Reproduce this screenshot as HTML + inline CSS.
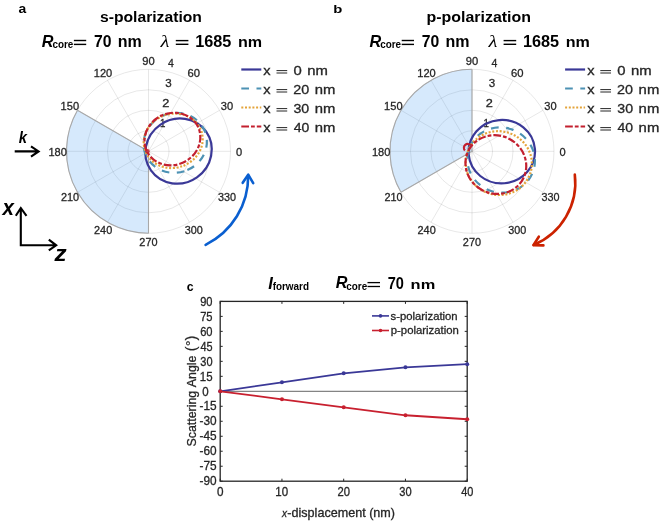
<!DOCTYPE html><html><head><meta charset="utf-8"><style>html,body{margin:0;padding:0;background:#fff;width:660px;height:522px;overflow:hidden}svg{display:block;will-change:transform}text{font-kerning:none;font-family:"Liberation Sans",sans-serif}</style></head><body>
<svg width="660" height="522" viewBox="0 0 660 522">
<rect width="660" height="522" fill="#fff"/>
<circle cx="148.5" cy="151.3" r="20.50" fill="none" stroke="rgba(0,0,0,0.105)" stroke-width="0.9"/>
<circle cx="148.5" cy="151.3" r="41.00" fill="none" stroke="rgba(0,0,0,0.105)" stroke-width="0.9"/>
<circle cx="148.5" cy="151.3" r="61.50" fill="none" stroke="rgba(0,0,0,0.105)" stroke-width="0.9"/>
<circle cx="148.5" cy="151.3" r="82.00" fill="none" stroke="rgba(0,0,0,0.105)" stroke-width="0.9"/>
<line x1="148.5" y1="151.3" x2="230.50" y2="151.30" stroke="rgba(0,0,0,0.105)" stroke-width="0.9"/>
<line x1="148.5" y1="151.3" x2="219.51" y2="110.30" stroke="rgba(0,0,0,0.105)" stroke-width="0.9"/>
<line x1="148.5" y1="151.3" x2="189.50" y2="80.29" stroke="rgba(0,0,0,0.105)" stroke-width="0.9"/>
<line x1="148.5" y1="151.3" x2="148.50" y2="69.30" stroke="rgba(0,0,0,0.105)" stroke-width="0.9"/>
<line x1="148.5" y1="151.3" x2="107.50" y2="80.29" stroke="rgba(0,0,0,0.105)" stroke-width="0.9"/>
<line x1="148.5" y1="151.3" x2="77.49" y2="110.30" stroke="rgba(0,0,0,0.105)" stroke-width="0.9"/>
<line x1="148.5" y1="151.3" x2="66.50" y2="151.30" stroke="rgba(0,0,0,0.105)" stroke-width="0.9"/>
<line x1="148.5" y1="151.3" x2="77.49" y2="192.30" stroke="rgba(0,0,0,0.105)" stroke-width="0.9"/>
<line x1="148.5" y1="151.3" x2="107.50" y2="222.31" stroke="rgba(0,0,0,0.105)" stroke-width="0.9"/>
<line x1="148.5" y1="151.3" x2="148.50" y2="233.30" stroke="rgba(0,0,0,0.105)" stroke-width="0.9"/>
<line x1="148.5" y1="151.3" x2="189.50" y2="222.31" stroke="rgba(0,0,0,0.105)" stroke-width="0.9"/>
<line x1="148.5" y1="151.3" x2="219.51" y2="192.30" stroke="rgba(0,0,0,0.105)" stroke-width="0.9"/>
<path d="M148.5,151.3 L77.49,110.30 A82,82 0 0 0 148.50,233.30 Z" fill="rgba(50,145,240,0.2)" stroke="none"/>
<path d="M77.49,110.30 L148.5,151.3 L148.50,233.30" fill="none" stroke="#a8a8a8" stroke-width="1.1"/>
<path d="M77.49,110.30 A82,82 0 0 0 148.50,233.30" fill="none" stroke="#a8a8a8" stroke-width="1.1"/>
<text transform="translate(236.02,155.60) scale(0.9677,1)" style="font-family:'Liberation Sans';font-size:11.46px" fill="#262626"  stroke="#262626" stroke-width="0.3">0</text>
<text transform="translate(220.79,110.30) scale(0.9696,1)" style="font-family:'Liberation Sans';font-size:11.46px" fill="#262626"  stroke="#262626" stroke-width="0.3">30</text>
<text transform="translate(187.48,77.14) scale(0.9817,1)" style="font-family:'Liberation Sans';font-size:11.46px" fill="#262626"  stroke="#262626" stroke-width="0.3">60</text>
<text transform="translate(142.22,65.00) scale(0.9779,1)" style="font-family:'Liberation Sans';font-size:11.46px" fill="#262626"  stroke="#262626" stroke-width="0.3">90</text>
<text transform="translate(93.76,77.14) scale(0.9665,1)" style="font-family:'Liberation Sans';font-size:11.46px" fill="#262626"  stroke="#262626" stroke-width="0.3">120</text>
<text transform="translate(60.59,110.30) scale(0.9665,1)" style="font-family:'Liberation Sans';font-size:11.46px" fill="#262626"  stroke="#262626" stroke-width="0.3">150</text>
<text transform="translate(48.46,155.60) scale(0.9665,1)" style="font-family:'Liberation Sans';font-size:11.46px" fill="#262626"  stroke="#262626" stroke-width="0.3">180</text>
<text transform="translate(60.89,200.90) scale(0.9507,1)" style="font-family:'Liberation Sans';font-size:11.46px" fill="#262626"  stroke="#262626" stroke-width="0.3">210</text>
<text transform="translate(94.05,234.06) scale(0.9507,1)" style="font-family:'Liberation Sans';font-size:11.46px" fill="#262626"  stroke="#262626" stroke-width="0.3">240</text>
<text transform="translate(139.35,246.20) scale(0.9507,1)" style="font-family:'Liberation Sans';font-size:11.46px" fill="#262626"  stroke="#262626" stroke-width="0.3">270</text>
<text transform="translate(184.79,234.06) scale(0.9434,1)" style="font-family:'Liberation Sans';font-size:11.46px" fill="#262626"  stroke="#262626" stroke-width="0.3">300</text>
<text transform="translate(217.95,200.90) scale(0.9434,1)" style="font-family:'Liberation Sans';font-size:11.46px" fill="#262626"  stroke="#262626" stroke-width="0.3">330</text>
<text transform="translate(160.06,126.90) scale(0.8377,1)" style="font-family:'Liberation Sans';font-size:11.63px" fill="#262626"  stroke="#262626" stroke-width="0.3">1</text>
<text transform="translate(162.26,106.90) scale(1.1112,1)" style="font-family:'Liberation Sans';font-size:11.46px" fill="#262626"  stroke="#262626" stroke-width="0.3">2</text>
<text transform="translate(165.31,86.80) scale(1.0125,1)" style="font-family:'Liberation Sans';font-size:11.46px" fill="#262626"  stroke="#262626" stroke-width="0.3">3</text>
<text transform="translate(168.11,66.50) scale(0.9045,1)" style="font-family:'Liberation Sans';font-size:11.63px" fill="#262626"  stroke="#262626" stroke-width="0.3">4</text>
<ellipse cx="178.56" cy="151.08" rx="33.73" ry="32.02" transform="rotate(144.95 178.56 151.08)" fill="none" stroke="#3a3897" stroke-width="2.2" />
<ellipse cx="175.24" cy="142.84" rx="29.78" ry="31.85" transform="rotate(72.22 175.24 142.84)" fill="none" stroke="#4d92b4" stroke-width="2.2" stroke-dasharray="7.7 7.5"/>
<ellipse cx="173.21" cy="140.78" rx="26.94" ry="29.75" transform="rotate(70.86 173.21 140.78)" fill="none" stroke="#e4a43a" stroke-width="2.2" stroke-dasharray="2 1.7"/>
<ellipse cx="172.43" cy="139.05" rx="28.35" ry="25.85" transform="rotate(155.12 172.43 139.05)" fill="none" stroke="#c3202f" stroke-width="2.2" stroke-dasharray="7.7 2 3.8 2"/>
<circle cx="472.0" cy="151.3" r="20.50" fill="none" stroke="rgba(0,0,0,0.105)" stroke-width="0.9"/>
<circle cx="472.0" cy="151.3" r="41.00" fill="none" stroke="rgba(0,0,0,0.105)" stroke-width="0.9"/>
<circle cx="472.0" cy="151.3" r="61.50" fill="none" stroke="rgba(0,0,0,0.105)" stroke-width="0.9"/>
<circle cx="472.0" cy="151.3" r="82.00" fill="none" stroke="rgba(0,0,0,0.105)" stroke-width="0.9"/>
<line x1="472.0" y1="151.3" x2="554.00" y2="151.30" stroke="rgba(0,0,0,0.105)" stroke-width="0.9"/>
<line x1="472.0" y1="151.3" x2="543.01" y2="110.30" stroke="rgba(0,0,0,0.105)" stroke-width="0.9"/>
<line x1="472.0" y1="151.3" x2="513.00" y2="80.29" stroke="rgba(0,0,0,0.105)" stroke-width="0.9"/>
<line x1="472.0" y1="151.3" x2="472.00" y2="69.30" stroke="rgba(0,0,0,0.105)" stroke-width="0.9"/>
<line x1="472.0" y1="151.3" x2="431.00" y2="80.29" stroke="rgba(0,0,0,0.105)" stroke-width="0.9"/>
<line x1="472.0" y1="151.3" x2="400.99" y2="110.30" stroke="rgba(0,0,0,0.105)" stroke-width="0.9"/>
<line x1="472.0" y1="151.3" x2="390.00" y2="151.30" stroke="rgba(0,0,0,0.105)" stroke-width="0.9"/>
<line x1="472.0" y1="151.3" x2="400.99" y2="192.30" stroke="rgba(0,0,0,0.105)" stroke-width="0.9"/>
<line x1="472.0" y1="151.3" x2="431.00" y2="222.31" stroke="rgba(0,0,0,0.105)" stroke-width="0.9"/>
<line x1="472.0" y1="151.3" x2="472.00" y2="233.30" stroke="rgba(0,0,0,0.105)" stroke-width="0.9"/>
<line x1="472.0" y1="151.3" x2="513.00" y2="222.31" stroke="rgba(0,0,0,0.105)" stroke-width="0.9"/>
<line x1="472.0" y1="151.3" x2="543.01" y2="192.30" stroke="rgba(0,0,0,0.105)" stroke-width="0.9"/>
<path d="M472.0,151.3 L472.00,69.30 A82,82 0 0 0 400.99,192.30 Z" fill="rgba(50,145,240,0.2)" stroke="none"/>
<path d="M472.00,69.30 L472.0,151.3 L400.99,192.30" fill="none" stroke="#a8a8a8" stroke-width="1.1"/>
<path d="M472.00,69.30 A82,82 0 0 0 400.99,192.30" fill="none" stroke="#a8a8a8" stroke-width="1.1"/>
<text transform="translate(559.52,155.60) scale(0.9677,1)" style="font-family:'Liberation Sans';font-size:11.46px" fill="#262626"  stroke="#262626" stroke-width="0.3">0</text>
<text transform="translate(544.29,110.30) scale(0.9696,1)" style="font-family:'Liberation Sans';font-size:11.46px" fill="#262626"  stroke="#262626" stroke-width="0.3">30</text>
<text transform="translate(510.98,77.14) scale(0.9817,1)" style="font-family:'Liberation Sans';font-size:11.46px" fill="#262626"  stroke="#262626" stroke-width="0.3">60</text>
<text transform="translate(465.72,65.00) scale(0.9779,1)" style="font-family:'Liberation Sans';font-size:11.46px" fill="#262626"  stroke="#262626" stroke-width="0.3">90</text>
<text transform="translate(417.26,77.14) scale(0.9665,1)" style="font-family:'Liberation Sans';font-size:11.46px" fill="#262626"  stroke="#262626" stroke-width="0.3">120</text>
<text transform="translate(384.09,110.30) scale(0.9665,1)" style="font-family:'Liberation Sans';font-size:11.46px" fill="#262626"  stroke="#262626" stroke-width="0.3">150</text>
<text transform="translate(371.96,155.60) scale(0.9665,1)" style="font-family:'Liberation Sans';font-size:11.46px" fill="#262626"  stroke="#262626" stroke-width="0.3">180</text>
<text transform="translate(384.39,200.90) scale(0.9507,1)" style="font-family:'Liberation Sans';font-size:11.46px" fill="#262626"  stroke="#262626" stroke-width="0.3">210</text>
<text transform="translate(417.55,234.06) scale(0.9507,1)" style="font-family:'Liberation Sans';font-size:11.46px" fill="#262626"  stroke="#262626" stroke-width="0.3">240</text>
<text transform="translate(462.85,246.20) scale(0.9507,1)" style="font-family:'Liberation Sans';font-size:11.46px" fill="#262626"  stroke="#262626" stroke-width="0.3">270</text>
<text transform="translate(508.29,234.06) scale(0.9434,1)" style="font-family:'Liberation Sans';font-size:11.46px" fill="#262626"  stroke="#262626" stroke-width="0.3">300</text>
<text transform="translate(541.45,200.90) scale(0.9434,1)" style="font-family:'Liberation Sans';font-size:11.46px" fill="#262626"  stroke="#262626" stroke-width="0.3">330</text>
<text transform="translate(483.56,126.90) scale(0.8377,1)" style="font-family:'Liberation Sans';font-size:11.63px" fill="#262626"  stroke="#262626" stroke-width="0.3">1</text>
<text transform="translate(485.76,106.90) scale(1.1112,1)" style="font-family:'Liberation Sans';font-size:11.46px" fill="#262626"  stroke="#262626" stroke-width="0.3">2</text>
<text transform="translate(488.81,86.80) scale(1.0125,1)" style="font-family:'Liberation Sans';font-size:11.46px" fill="#262626"  stroke="#262626" stroke-width="0.3">3</text>
<text transform="translate(491.61,66.50) scale(0.9045,1)" style="font-family:'Liberation Sans';font-size:11.63px" fill="#262626"  stroke="#262626" stroke-width="0.3">4</text>
<ellipse cx="501.79" cy="151.65" rx="33.24" ry="31.72" transform="rotate(175.15 501.79 151.65)" fill="none" stroke="#3a3897" stroke-width="2.2" />
<ellipse cx="501.09" cy="160.07" rx="33.99" ry="32.46" transform="rotate(-159.56 501.09 160.07)" fill="none" stroke="#4d92b4" stroke-width="2.2" stroke-dasharray="7.7 7.5"/>
<ellipse cx="498.74" cy="163.08" rx="33.2" ry="31.84" transform="rotate(-166.51 498.74 163.08)" fill="none" stroke="#e4a43a" stroke-width="2.2" stroke-dasharray="2 1.7"/>
<ellipse cx="495.87" cy="164.55" rx="28.99" ry="30.73" transform="rotate(116.93 495.87 164.55)" fill="none" stroke="#c3202f" stroke-width="2.2" stroke-dasharray="7.7 2 3.8 2"/>
<path d="M464.9,150.5 A3.3,3.3 0 0 1 470.8,145.3" fill="none" stroke="#c3202f" stroke-width="2.2"/>
<circle cx="147.5" cy="151.3" r="2.2" fill="#c3202f" opacity="0.8"/>
<line x1="241.3" y1="69.5" x2="261.3" y2="69.5" stroke="#3a3897" stroke-width="2.2" />
<text transform="translate(263.34,75.00) scale(1.1212,1)" style="font-family:'Liberation Sans';font-size:13.06px" fill="#262626"  stroke="#262626" stroke-width="0.3">x</text>
<rect x="276.50" y="70.10" width="10.70" height="1.0" fill="#262626"/>
<rect x="276.50" y="72.50" width="10.70" height="1.0" fill="#262626"/>
<text transform="translate(293.42,75.00) scale(1.1151,1)" style="font-family:'Liberation Sans';font-size:13.32px" fill="#262626"  stroke="#262626" stroke-width="0.3">0</text>
<text transform="translate(307.21,75.00) scale(1.2130,1)" style="font-family:'Liberation Sans';font-size:12.27px" fill="#262626"  stroke="#262626" stroke-width="0.3">nm</text>
<line x1="241.3" y1="88.5" x2="261.3" y2="88.5" stroke="#4d92b4" stroke-width="2.2" stroke-dasharray="7.7 7.5"/>
<text transform="translate(263.34,94.00) scale(1.1212,1)" style="font-family:'Liberation Sans';font-size:13.06px" fill="#262626"  stroke="#262626" stroke-width="0.3">x</text>
<rect x="276.50" y="89.10" width="10.70" height="1.0" fill="#262626"/>
<rect x="276.50" y="91.50" width="10.70" height="1.0" fill="#262626"/>
<text transform="translate(293.28,94.00) scale(1.0789,1)" style="font-family:'Liberation Sans';font-size:13.32px" fill="#262626"  stroke="#262626" stroke-width="0.3">20</text>
<text transform="translate(314.81,94.00) scale(1.2130,1)" style="font-family:'Liberation Sans';font-size:12.27px" fill="#262626"  stroke="#262626" stroke-width="0.3">nm</text>
<line x1="241.3" y1="107.5" x2="261.3" y2="107.5" stroke="#e4a43a" stroke-width="2.2" stroke-dasharray="2 1.7"/>
<text transform="translate(263.34,113.00) scale(1.1212,1)" style="font-family:'Liberation Sans';font-size:13.06px" fill="#262626"  stroke="#262626" stroke-width="0.3">x</text>
<rect x="276.50" y="108.10" width="10.70" height="1.0" fill="#262626"/>
<rect x="276.50" y="110.50" width="10.70" height="1.0" fill="#262626"/>
<text transform="translate(293.46,113.00) scale(1.0662,1)" style="font-family:'Liberation Sans';font-size:13.32px" fill="#262626"  stroke="#262626" stroke-width="0.3">30</text>
<text transform="translate(314.81,113.00) scale(1.2130,1)" style="font-family:'Liberation Sans';font-size:12.27px" fill="#262626"  stroke="#262626" stroke-width="0.3">nm</text>
<line x1="241.3" y1="126.5" x2="261.3" y2="126.5" stroke="#c3202f" stroke-width="2.2" stroke-dasharray="7.7 2 3.8 2"/>
<text transform="translate(263.34,132.00) scale(1.1212,1)" style="font-family:'Liberation Sans';font-size:13.06px" fill="#262626"  stroke="#262626" stroke-width="0.3">x</text>
<rect x="276.50" y="127.10" width="10.70" height="1.0" fill="#262626"/>
<rect x="276.50" y="129.50" width="10.70" height="1.0" fill="#262626"/>
<text transform="translate(293.68,132.00) scale(1.0508,1)" style="font-family:'Liberation Sans';font-size:13.32px" fill="#262626"  stroke="#262626" stroke-width="0.3">40</text>
<text transform="translate(314.81,132.00) scale(1.2130,1)" style="font-family:'Liberation Sans';font-size:12.27px" fill="#262626"  stroke="#262626" stroke-width="0.3">nm</text>
<line x1="565.1" y1="69.5" x2="585.1" y2="69.5" stroke="#3a3897" stroke-width="2.2" />
<text transform="translate(587.14,75.00) scale(1.1212,1)" style="font-family:'Liberation Sans';font-size:13.06px" fill="#262626"  stroke="#262626" stroke-width="0.3">x</text>
<rect x="600.30" y="70.10" width="10.70" height="1.0" fill="#262626"/>
<rect x="600.30" y="72.50" width="10.70" height="1.0" fill="#262626"/>
<text transform="translate(617.22,75.00) scale(1.1151,1)" style="font-family:'Liberation Sans';font-size:13.32px" fill="#262626"  stroke="#262626" stroke-width="0.3">0</text>
<text transform="translate(631.01,75.00) scale(1.2130,1)" style="font-family:'Liberation Sans';font-size:12.27px" fill="#262626"  stroke="#262626" stroke-width="0.3">nm</text>
<line x1="565.1" y1="88.5" x2="585.1" y2="88.5" stroke="#4d92b4" stroke-width="2.2" stroke-dasharray="7.7 7.5"/>
<text transform="translate(587.14,94.00) scale(1.1212,1)" style="font-family:'Liberation Sans';font-size:13.06px" fill="#262626"  stroke="#262626" stroke-width="0.3">x</text>
<rect x="600.30" y="89.10" width="10.70" height="1.0" fill="#262626"/>
<rect x="600.30" y="91.50" width="10.70" height="1.0" fill="#262626"/>
<text transform="translate(617.08,94.00) scale(1.0789,1)" style="font-family:'Liberation Sans';font-size:13.32px" fill="#262626"  stroke="#262626" stroke-width="0.3">20</text>
<text transform="translate(638.61,94.00) scale(1.2130,1)" style="font-family:'Liberation Sans';font-size:12.27px" fill="#262626"  stroke="#262626" stroke-width="0.3">nm</text>
<line x1="565.1" y1="107.5" x2="585.1" y2="107.5" stroke="#e4a43a" stroke-width="2.2" stroke-dasharray="2 1.7"/>
<text transform="translate(587.14,113.00) scale(1.1212,1)" style="font-family:'Liberation Sans';font-size:13.06px" fill="#262626"  stroke="#262626" stroke-width="0.3">x</text>
<rect x="600.30" y="108.10" width="10.70" height="1.0" fill="#262626"/>
<rect x="600.30" y="110.50" width="10.70" height="1.0" fill="#262626"/>
<text transform="translate(617.26,113.00) scale(1.0662,1)" style="font-family:'Liberation Sans';font-size:13.32px" fill="#262626"  stroke="#262626" stroke-width="0.3">30</text>
<text transform="translate(638.61,113.00) scale(1.2130,1)" style="font-family:'Liberation Sans';font-size:12.27px" fill="#262626"  stroke="#262626" stroke-width="0.3">nm</text>
<line x1="565.1" y1="126.5" x2="585.1" y2="126.5" stroke="#c3202f" stroke-width="2.2" stroke-dasharray="7.7 2 3.8 2"/>
<text transform="translate(587.14,132.00) scale(1.1212,1)" style="font-family:'Liberation Sans';font-size:13.06px" fill="#262626"  stroke="#262626" stroke-width="0.3">x</text>
<rect x="600.30" y="127.10" width="10.70" height="1.0" fill="#262626"/>
<rect x="600.30" y="129.50" width="10.70" height="1.0" fill="#262626"/>
<text transform="translate(617.48,132.00) scale(1.0508,1)" style="font-family:'Liberation Sans';font-size:13.32px" fill="#262626"  stroke="#262626" stroke-width="0.3">40</text>
<text transform="translate(638.61,132.00) scale(1.2130,1)" style="font-family:'Liberation Sans';font-size:12.27px" fill="#262626"  stroke="#262626" stroke-width="0.3">nm</text>
<text transform="translate(18.39,12.80) scale(1.0230,1)" style="font-family:'Liberation Sans';font-weight:bold;font-size:13.57px" fill="#000" >a</text>
<text transform="translate(333.32,12.80) scale(1.2688,1)" style="font-family:'Liberation Sans';font-weight:bold;font-size:11.73px" fill="#000" >b</text>
<text transform="translate(99.95,22.30) scale(1.0434,1)" style="font-family:'Liberation Sans';font-weight:bold;font-size:15.04px" fill="#000" >s-polarization</text>
<text transform="translate(426.55,22.30) scale(1.0591,1)" style="font-family:'Liberation Sans';font-weight:bold;font-size:15.04px" fill="#000" >p-polarization</text>
<text transform="translate(41.72,46.50) scale(0.9605,1)" style="font-family:'Liberation Sans';font-weight:bold;font-style:italic;font-size:16.86px" fill="#000" >R</text>
<text transform="translate(52.41,48.00) scale(0.9701,1)" style="font-family:'Liberation Sans';font-weight:bold;font-size:10.21px" fill="#000" >core</text>
<rect x="73.90" y="39.80" width="12.30" height="1.4" fill="#000"/>
<rect x="73.90" y="43.70" width="12.30" height="1.4" fill="#000"/>
<text transform="translate(93.92,46.70) scale(0.9565,1)" style="font-family:'Liberation Sans';font-weight:bold;font-size:16.47px" fill="#000" >70</text>
<text transform="translate(117.74,46.70) scale(1.0280,1)" style="font-family:'Liberation Sans';font-weight:bold;font-size:15.60px" fill="#000" >nm</text>
<text transform="translate(160.60,46.70) scale(1.2172,1)" style="font-family:'Liberation Serif';font-style:italic;font-size:16.90px" fill="#000" >λ</text>
<rect x="175.80" y="39.90" width="12.60" height="1.4" fill="#000"/>
<rect x="175.80" y="43.60" width="12.60" height="1.4" fill="#000"/>
<text transform="translate(195.18,46.60) scale(0.9789,1)" style="font-family:'Liberation Sans';font-weight:bold;font-size:16.61px" fill="#000" >1685</text>
<text transform="translate(237.94,46.60) scale(1.1122,1)" style="font-family:'Liberation Sans';font-weight:bold;font-size:14.48px" fill="#000" >nm</text>
<text transform="translate(369.52,46.50) scale(0.9605,1)" style="font-family:'Liberation Sans';font-weight:bold;font-style:italic;font-size:16.86px" fill="#000" >R</text>
<text transform="translate(380.21,48.00) scale(0.9701,1)" style="font-family:'Liberation Sans';font-weight:bold;font-size:10.21px" fill="#000" >core</text>
<rect x="401.70" y="39.80" width="12.30" height="1.4" fill="#000"/>
<rect x="401.70" y="43.70" width="12.30" height="1.4" fill="#000"/>
<text transform="translate(421.72,46.70) scale(0.9565,1)" style="font-family:'Liberation Sans';font-weight:bold;font-size:16.47px" fill="#000" >70</text>
<text transform="translate(445.54,46.70) scale(1.0280,1)" style="font-family:'Liberation Sans';font-weight:bold;font-size:15.60px" fill="#000" >nm</text>
<text transform="translate(488.40,46.70) scale(1.2172,1)" style="font-family:'Liberation Serif';font-style:italic;font-size:16.90px" fill="#000" >λ</text>
<rect x="503.60" y="39.90" width="12.60" height="1.4" fill="#000"/>
<rect x="503.60" y="43.60" width="12.60" height="1.4" fill="#000"/>
<text transform="translate(522.98,46.60) scale(0.9789,1)" style="font-family:'Liberation Sans';font-weight:bold;font-size:16.61px" fill="#000" >1685</text>
<text transform="translate(565.74,46.60) scale(1.1122,1)" style="font-family:'Liberation Sans';font-weight:bold;font-size:14.48px" fill="#000" >nm</text>
<text transform="translate(18.75,143.30) scale(0.8519,1)" style="font-family:'Liberation Sans';font-weight:bold;font-style:italic;font-size:17.39px" fill="#000" >k</text>
<path d="M14.7,151.4 H38 M31,146.3 L38.6,151.4 L31,156.6" fill="none" stroke="#000" stroke-width="2.1"/>
<text transform="translate(2.41,215.00) scale(0.9025,1)" style="font-family:'Liberation Sans';font-weight:bold;font-style:italic;font-size:22.90px" fill="#000" >x</text>
<path d="M20.8,208.5 V245.3 H55.5 M15.8,215.8 L20.8,208 L26.5,215.8 M48.8,239.6 L56.2,245.3 L48.8,250.4" fill="none" stroke="#000" stroke-width="2.1"/>
<text transform="translate(54.42,261.40) scale(1.1259,1)" style="font-family:'Liberation Sans';font-weight:bold;font-style:italic;font-size:21.58px" fill="#000" >z</text>
<path d="M205.6,244.8 A76.4,76.4 0 0 0 248.2,175.5" fill="none" stroke="#0a5fd0" stroke-width="2.6" stroke-linecap="round"/>
<path d="M242.7,182.8 L248.2,174.7 L253.2,183.1" fill="none" stroke="#0a5fd0" stroke-width="2.6" stroke-linecap="round" stroke-linejoin="round"/>
<path d="M574.8,174.6 A67.3,67.3 0 0 1 533.8,244.8" fill="none" stroke="#cc2200" stroke-width="2.6" stroke-linecap="round"/>
<path d="M538.8,236.7 L533.4,245.1 L543.4,245.4" fill="none" stroke="#cc2200" stroke-width="2.6" stroke-linecap="round" stroke-linejoin="round"/>
<line x1="220.2" y1="391.3" x2="467.2" y2="391.3" stroke="#666" stroke-width="1"/>
<line x1="220.2" y1="481.20" x2="222.7" y2="481.20" stroke="#262626" stroke-width="1"/>
<line x1="467.2" y1="481.20" x2="464.7" y2="481.20" stroke="#262626" stroke-width="1"/>
<text transform="translate(199.47,485.40) scale(0.9827,1)" style="font-family:'Liberation Sans';font-size:12.03px" fill="#262626"  stroke="#262626" stroke-width="0.3">-90</text>
<line x1="220.2" y1="466.22" x2="222.7" y2="466.22" stroke="#262626" stroke-width="1"/>
<line x1="467.2" y1="466.22" x2="464.7" y2="466.22" stroke="#262626" stroke-width="1"/>
<text transform="translate(199.47,470.42) scale(0.9704,1)" style="font-family:'Liberation Sans';font-size:12.21px" fill="#262626"  stroke="#262626" stroke-width="0.3">-75</text>
<line x1="220.2" y1="451.23" x2="222.7" y2="451.23" stroke="#262626" stroke-width="1"/>
<line x1="467.2" y1="451.23" x2="464.7" y2="451.23" stroke="#262626" stroke-width="1"/>
<text transform="translate(199.47,455.43) scale(0.9827,1)" style="font-family:'Liberation Sans';font-size:12.03px" fill="#262626"  stroke="#262626" stroke-width="0.3">-60</text>
<line x1="220.2" y1="436.25" x2="222.7" y2="436.25" stroke="#262626" stroke-width="1"/>
<line x1="467.2" y1="436.25" x2="464.7" y2="436.25" stroke="#262626" stroke-width="1"/>
<text transform="translate(199.47,440.45) scale(0.9704,1)" style="font-family:'Liberation Sans';font-size:12.21px" fill="#262626"  stroke="#262626" stroke-width="0.3">-45</text>
<line x1="220.2" y1="421.27" x2="222.7" y2="421.27" stroke="#262626" stroke-width="1"/>
<line x1="467.2" y1="421.27" x2="464.7" y2="421.27" stroke="#262626" stroke-width="1"/>
<text transform="translate(199.47,425.47) scale(0.9827,1)" style="font-family:'Liberation Sans';font-size:12.03px" fill="#262626"  stroke="#262626" stroke-width="0.3">-30</text>
<line x1="220.2" y1="406.28" x2="222.7" y2="406.28" stroke="#262626" stroke-width="1"/>
<line x1="467.2" y1="406.28" x2="464.7" y2="406.28" stroke="#262626" stroke-width="1"/>
<text transform="translate(199.47,410.48) scale(0.9704,1)" style="font-family:'Liberation Sans';font-size:12.21px" fill="#262626"  stroke="#262626" stroke-width="0.3">-15</text>
<line x1="220.2" y1="391.30" x2="222.7" y2="391.30" stroke="#262626" stroke-width="1"/>
<line x1="467.2" y1="391.30" x2="464.7" y2="391.30" stroke="#262626" stroke-width="1"/>
<text transform="translate(202.15,395.50) scale(0.9564,1)" style="font-family:'Liberation Sans';font-size:12.03px" fill="#262626"  stroke="#262626" stroke-width="0.3">0</text>
<line x1="220.2" y1="376.32" x2="222.7" y2="376.32" stroke="#262626" stroke-width="1"/>
<line x1="467.2" y1="376.32" x2="464.7" y2="376.32" stroke="#262626" stroke-width="1"/>
<text transform="translate(199.83,380.52) scale(0.9392,1)" style="font-family:'Liberation Sans';font-size:12.21px" fill="#262626"  stroke="#262626" stroke-width="0.3">15</text>
<line x1="220.2" y1="361.33" x2="222.7" y2="361.33" stroke="#262626" stroke-width="1"/>
<line x1="467.2" y1="361.33" x2="464.7" y2="361.33" stroke="#262626" stroke-width="1"/>
<text transform="translate(200.28,365.53) scale(0.9154,1)" style="font-family:'Liberation Sans';font-size:12.03px" fill="#262626"  stroke="#262626" stroke-width="0.3">30</text>
<line x1="220.2" y1="346.35" x2="222.7" y2="346.35" stroke="#262626" stroke-width="1"/>
<line x1="467.2" y1="346.35" x2="464.7" y2="346.35" stroke="#262626" stroke-width="1"/>
<text transform="translate(200.45,350.55) scale(0.8915,1)" style="font-family:'Liberation Sans';font-size:12.21px" fill="#262626"  stroke="#262626" stroke-width="0.3">45</text>
<line x1="220.2" y1="331.37" x2="222.7" y2="331.37" stroke="#262626" stroke-width="1"/>
<line x1="467.2" y1="331.37" x2="464.7" y2="331.37" stroke="#262626" stroke-width="1"/>
<text transform="translate(200.13,335.57) scale(0.9268,1)" style="font-family:'Liberation Sans';font-size:12.03px" fill="#262626"  stroke="#262626" stroke-width="0.3">60</text>
<line x1="220.2" y1="316.38" x2="222.7" y2="316.38" stroke="#262626" stroke-width="1"/>
<line x1="467.2" y1="316.38" x2="464.7" y2="316.38" stroke="#262626" stroke-width="1"/>
<text transform="translate(200.13,320.58) scale(0.9163,1)" style="font-family:'Liberation Sans';font-size:12.21px" fill="#262626"  stroke="#262626" stroke-width="0.3">75</text>
<line x1="220.2" y1="301.40" x2="222.7" y2="301.40" stroke="#262626" stroke-width="1"/>
<line x1="467.2" y1="301.40" x2="464.7" y2="301.40" stroke="#262626" stroke-width="1"/>
<text transform="translate(200.18,305.60) scale(0.9233,1)" style="font-family:'Liberation Sans';font-size:12.03px" fill="#262626"  stroke="#262626" stroke-width="0.3">90</text>
<line x1="220.20" y1="301.4" x2="220.20" y2="303.9" stroke="#262626" stroke-width="1"/>
<line x1="220.20" y1="481.20000000000005" x2="220.20" y2="478.70000000000005" stroke="#262626" stroke-width="1"/>
<text transform="translate(216.94,496.30) scale(0.9855,1)" style="font-family:'Liberation Sans';font-size:11.89px" fill="#262626"  stroke="#262626" stroke-width="0.3">0</text>
<line x1="281.95" y1="301.4" x2="281.95" y2="303.9" stroke="#262626" stroke-width="1"/>
<line x1="281.95" y1="481.20000000000005" x2="281.95" y2="478.70000000000005" stroke="#262626" stroke-width="1"/>
<text transform="translate(275.32,496.30) scale(0.9703,1)" style="font-family:'Liberation Sans';font-size:11.89px" fill="#262626"  stroke="#262626" stroke-width="0.3">10</text>
<line x1="343.70" y1="301.4" x2="343.70" y2="303.9" stroke="#262626" stroke-width="1"/>
<line x1="343.70" y1="481.20000000000005" x2="343.70" y2="478.70000000000005" stroke="#262626" stroke-width="1"/>
<text transform="translate(337.38,496.30) scale(0.9457,1)" style="font-family:'Liberation Sans';font-size:11.89px" fill="#262626"  stroke="#262626" stroke-width="0.3">20</text>
<line x1="405.45" y1="301.4" x2="405.45" y2="303.9" stroke="#262626" stroke-width="1"/>
<line x1="405.45" y1="481.20000000000005" x2="405.45" y2="478.70000000000005" stroke="#262626" stroke-width="1"/>
<text transform="translate(399.28,496.30) scale(0.9346,1)" style="font-family:'Liberation Sans';font-size:11.89px" fill="#262626"  stroke="#262626" stroke-width="0.3">30</text>
<line x1="467.20" y1="301.4" x2="467.20" y2="303.9" stroke="#262626" stroke-width="1"/>
<line x1="467.20" y1="481.20000000000005" x2="467.20" y2="478.70000000000005" stroke="#262626" stroke-width="1"/>
<text transform="translate(461.20,496.30) scale(0.9211,1)" style="font-family:'Liberation Sans';font-size:11.89px" fill="#262626"  stroke="#262626" stroke-width="0.3">40</text>
<rect x="220.2" y="301.40" width="247.00" height="179.80" fill="none" stroke="#262626" stroke-width="1.3"/>
<polyline points="220.20,391.30 281.95,382.31 343.70,373.32 405.45,367.33 467.20,364.13" fill="none" stroke="#3a3897" stroke-width="1.8"/>
<circle cx="220.20" cy="391.30" r="2" fill="#3a3897"/>
<circle cx="281.95" cy="382.31" r="2" fill="#3a3897"/>
<circle cx="343.70" cy="373.32" r="2" fill="#3a3897"/>
<circle cx="405.45" cy="367.33" r="2" fill="#3a3897"/>
<circle cx="467.20" cy="364.13" r="2" fill="#3a3897"/>
<polyline points="220.20,391.30 281.95,399.29 343.70,407.28 405.45,415.27 467.20,419.27" fill="none" stroke="#c8202f" stroke-width="1.8"/>
<circle cx="220.20" cy="391.30" r="2" fill="#c8202f"/>
<circle cx="281.95" cy="399.29" r="2" fill="#c8202f"/>
<circle cx="343.70" cy="407.28" r="2" fill="#c8202f"/>
<circle cx="405.45" cy="415.27" r="2" fill="#c8202f"/>
<circle cx="467.20" cy="419.27" r="2" fill="#c8202f"/>
<line x1="372" y1="315.9" x2="389" y2="315.9" stroke="#3a3897" stroke-width="1.6"/><circle cx="380.5" cy="315.9" r="1.8" fill="#3a3897"/>
<text transform="translate(390.49,319.80) scale(1.0242,1)" style="font-family:'Liberation Sans';font-size:11.04px" fill="#262626"  stroke="#262626" stroke-width="0.3">s-polarization</text>
<line x1="372" y1="330.5" x2="389" y2="330.5" stroke="#c8202f" stroke-width="1.6"/><circle cx="380.5" cy="330.5" r="1.8" fill="#c8202f"/>
<text transform="translate(390.77,334.40) scale(1.0285,1)" style="font-family:'Liberation Sans';font-size:11.04px" fill="#262626"  stroke="#262626" stroke-width="0.3">p-polarization</text>
<text transform="translate(186.82,290.60) scale(0.9067,1)" style="font-family:'Liberation Sans';font-weight:bold;font-size:13.57px" fill="#000" >c</text>
<text transform="translate(268.31,288.60) scale(1.0010,1)" style="font-family:'Liberation Sans';font-weight:bold;font-style:italic;font-size:16.57px" fill="#000" >I</text>
<text transform="translate(272.63,290.00) scale(0.9348,1)" style="font-family:'Liberation Sans';font-weight:bold;font-size:10.63px" fill="#000" >forward</text>
<text transform="translate(335.72,288.40) scale(0.9948,1)" style="font-family:'Liberation Sans';font-weight:bold;font-style:italic;font-size:16.28px" fill="#000" >R</text>
<text transform="translate(346.21,290.30) scale(0.9880,1)" style="font-family:'Liberation Sans';font-weight:bold;font-size:10.03px" fill="#000" >core</text>
<rect x="367.50" y="281.95" width="12.50" height="1.3" fill="#000"/>
<rect x="367.50" y="285.85" width="12.50" height="1.3" fill="#000"/>
<text transform="translate(387.67,288.70) scale(0.9344,1)" style="font-family:'Liberation Sans';font-weight:bold;font-size:15.61px" fill="#000" >70</text>
<text transform="translate(410.62,288.70) scale(1.3182,1)" style="font-family:'Liberation Sans';font-weight:bold;font-size:12.44px" fill="#000" >nm</text>
<text transform="translate(282.00,517.00) scale(0.9445,1)" style="font-family:'Liberation Sans';font-style:italic;font-size:10.60px" fill="#262626"  stroke="#262626" stroke-width="0.3">x</text>
<text transform="translate(287.34,517.00) scale(1.0485,1)" style="font-family:'Liberation Sans';font-size:12.01px" fill="#262626"  stroke="#262626" stroke-width="0.3">-displacement (nm)</text>
<text transform="translate(196.00,446.56) rotate(-90) scale(0.9471,1)" style="font-family:'Liberation Sans';font-size:13.11px" fill="#262626" stroke="#262626" stroke-width="0.3">Scattering Angle</text>
<text transform="translate(196.00,351.21) rotate(-90) scale(1.0208,1)" style="font-family:'Liberation Sans';font-size:14.35px" fill="#262626" stroke="#262626" stroke-width="0.2">(°)</text>
</svg>
</body></html>
